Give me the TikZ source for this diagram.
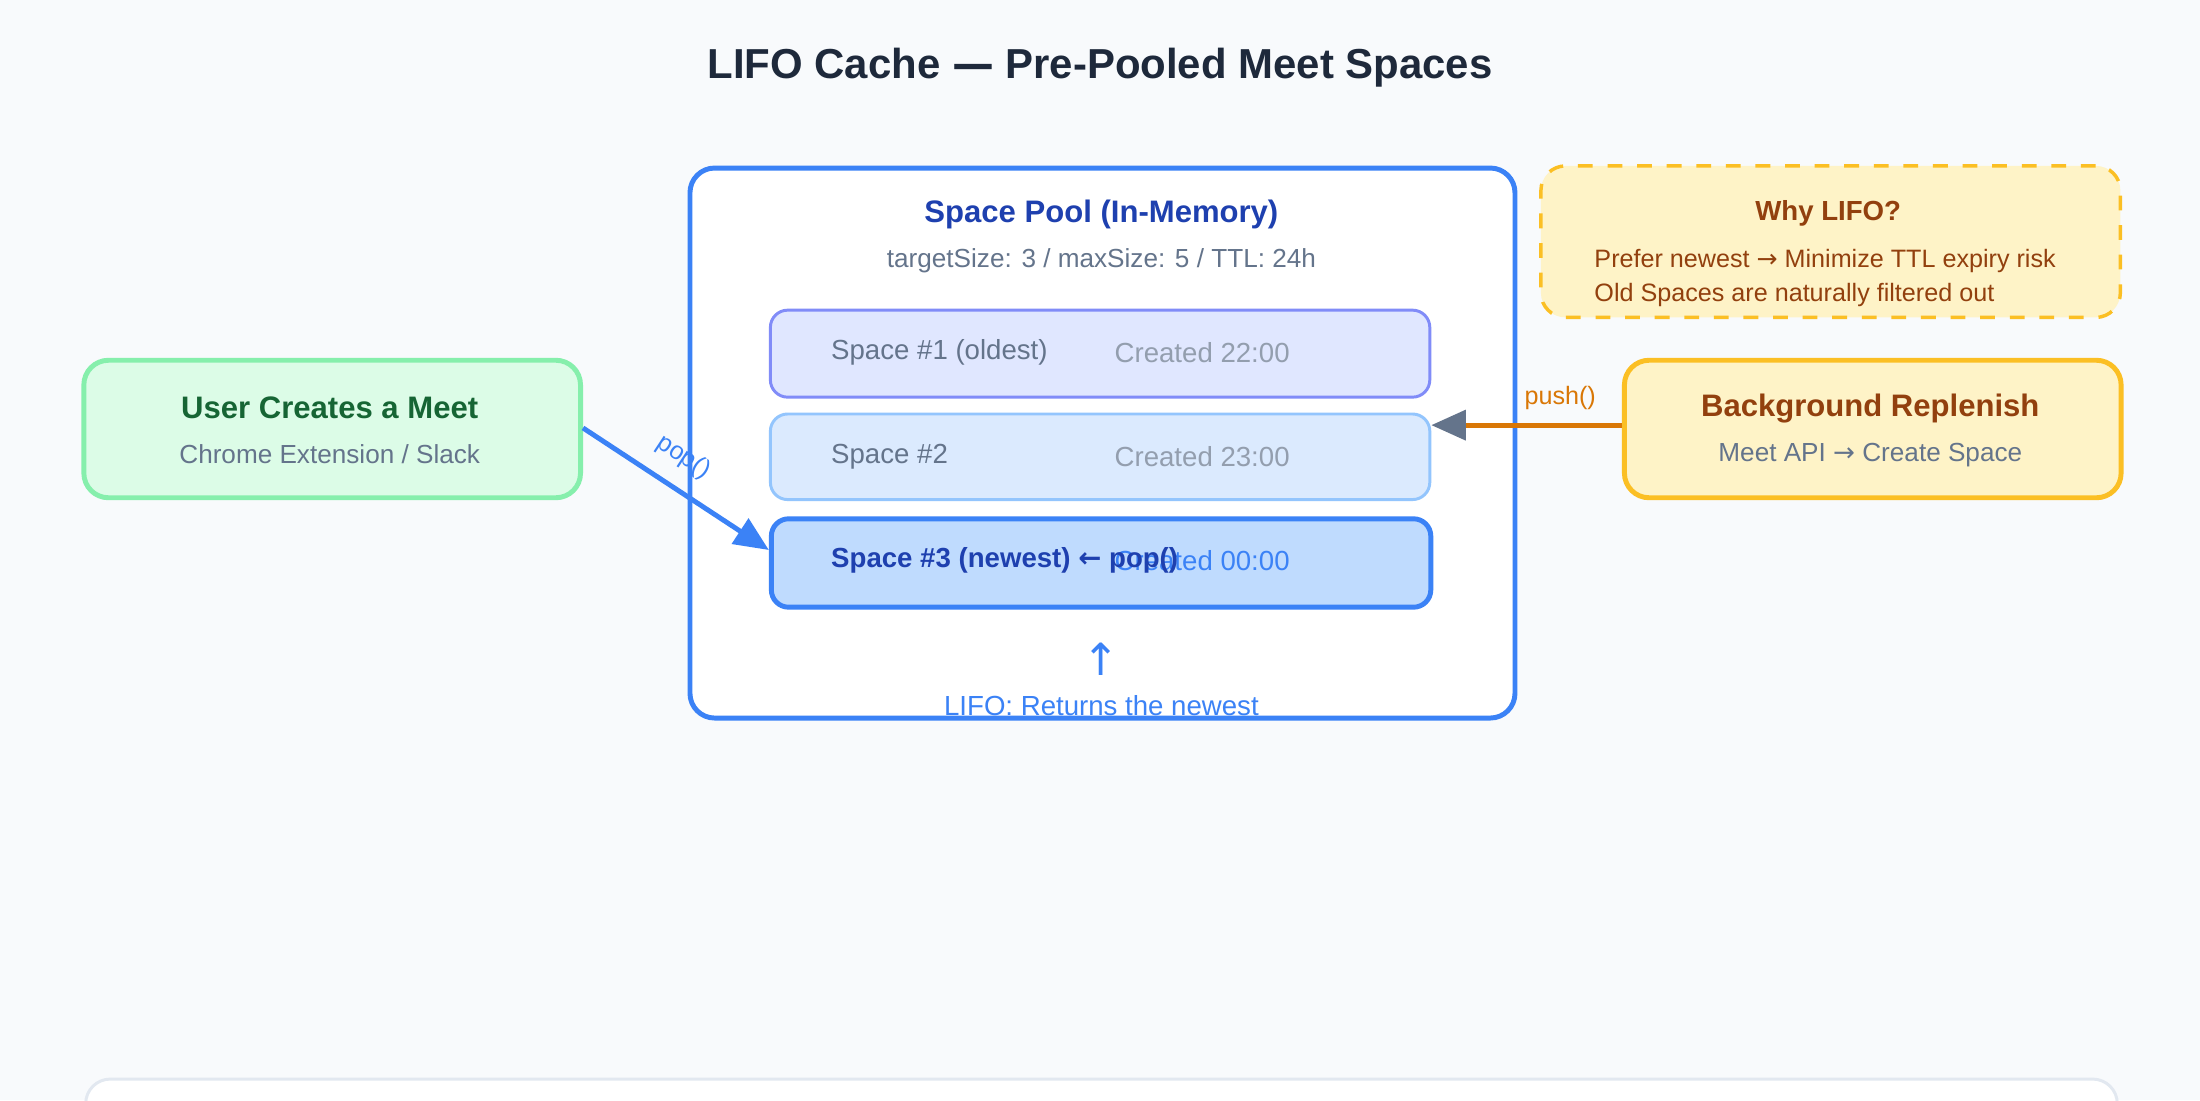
\documentclass[tikz,border=0pt]{standalone}
\usepackage{fontspec}
\setmainfont{Liberation Sans}
\newfontfamily\arrowfont{DejaVu Sans}
\usetikzlibrary{positioning,arrows.meta}
\definecolor{bgc}{HTML}{F8FAFC}
\definecolor{blu}{HTML}{3B82F6}
\definecolor{dblu}{HTML}{1E40AF}
\definecolor{slate}{HTML}{64748B}
\definecolor{ink}{HTML}{1E293B}
\definecolor{txt}{HTML}{334155}
\definecolor{amb}{HTML}{FBBF24}
\definecolor{brn}{HTML}{92400E}
\definecolor{ora}{HTML}{D97706}
\newcommand{\fs}[1]{\fontsize{#1}{#1}\selectfont}
\newcommand{\arr}[1]{{\arrowfont #1}}
\tikzset{%
box/.style={draw, rounded corners=5pt, line width=1pt, anchor=north west, inner sep=0pt},
slot/.style={draw, rounded corners=3.5pt, line width=0.6pt, anchor=north west},
slotl/.style={anchor=west, font=\fs{5.6}, text=slate},
hd/.style={font=\bfseries\fs{6.3}},
sub/.style={font=\fs{5.3}, text=slate},
pt/.style={-{Triangle[length=7pt,width=6pt]}, line width=1pt}
}
\begin{document}
\begin{tikzpicture}[x=1cm,y=1cm]
\fill[bgc] (0,0) rectangle (15.68,7.84);
\useasboundingbox (0,0) rectangle (15.68,7.84);
\begin{scope}[yshift=-3.16cm]
\node[font=\bfseries\fs{8.5}, text=ink] (title) at (7.84,10.52) {LIFO Cache \arr{—} Pre-Pooled Meet Spaces};

% pool
\node[box, draw=blu, fill=white, minimum width=5.88cm, minimum height=3.92cm] (pool) at (4.9,9.82) {};
\node[hd, text=dblu] (pooltitle) at (7.85,9.47) {Space Pool (In-Memory)};
\node[sub] (poolsub) at (7.85,9.14) {targetSize: 3 / maxSize: 5 / TTL: 24h};
\node[slot, draw={rgb,255:red,129;green,140;blue,248}, fill={rgb,255:red,224;green,231;blue,255}, minimum width=4.7cm, minimum height=0.62cm] (s1) at (5.48,8.8) {};
\node[slot, draw={rgb,255:red,147;green,197;blue,253}, fill={rgb,255:red,219;green,234;blue,254}, minimum width=4.7cm, minimum height=0.61cm] (s2) at (5.48,8.06) {};
\node[slot, line width=1pt, draw=blu, fill={rgb,255:red,191;green,219;blue,254}, minimum width=4.7cm, minimum height=0.63cm] (s3) at (5.48,7.32) {};
\node[slotl] at (5.8,8.49) {Space \#1 (oldest)};
\node[slotl, text=slate!70] at (7.82,8.49) {Created 22:00};
\node[slotl] at (5.8,7.745) {Space \#2};
\node[slotl, text=slate!70] at (7.82,7.745) {Created 23:00};
\node[slotl, text=blu] at (7.82,7.005) {Created 00:00};
\node[slotl, text=dblu, font=\bfseries\fs{5.6}] at (5.8,7.005) {Space \#3 (newest) \arr{←} pop()};
\node[text=blu, font=\fs{9}] (up) at (7.85,6.3) {\arr{↑}};
\node[text=blu, font=\fs{5.6}] (lifo) at (7.85,5.97) {LIFO: Returns the newest};

% user
\node[box, draw={rgb,255:red,134;green,239;blue,172}, fill={rgb,255:red,220;green,252;blue,231}, minimum width=3.54cm, minimum height=0.98cm] (user) at (0.58,8.45) {};
\node[hd, text={rgb,255:red,22;green,101;blue,52}] at (2.35,8.09) {User Creates a Meet};
\node[sub] at (2.35,7.76) {Chrome Extension / Slack};

% replenish
\node[box, draw=amb, fill={rgb,255:red,254;green,243;blue,199}, minimum width=3.54cm, minimum height=0.98cm] (bg) at (11.56,8.45) {};
\node[hd, text=brn] at (13.33,8.09) {Background Replenish};
\node[sub] at (13.33,7.76) {Meet API \arr{→} Create Space};

% why
\node[box, dashed, line width=0.7pt, draw=amb, fill={rgb,255:red,254;green,243;blue,199}, minimum width=4.13cm, minimum height=1.08cm] (why) at (10.97,9.83) {};
\node[font=\bfseries\fs{5.6}, text=brn] at (13.03,9.48) {Why LIFO?};
\node[anchor=west, font=\fs{5.1}, text=brn] at (11.24,9.14) {Prefer newest \arr{→} Minimize TTL expiry risk};
\node[anchor=west, font=\fs{5.1}, text=brn] at (11.24,8.9) {Old Spaces are naturally filtered out};

% arrows
\draw[pt, blu] (user.east |- 0,7.95) -- (s3.west |- 0,7.08) node[pos=0.45, sloped, above, font=\fs{5.1}, text=blu] {pop()};
\draw[line width=1pt, ora] (bg.west |- 0,7.97) -- (10.34,7.97);
\draw[pt, slate] (10.4,7.97) -- (s2.east |- 0,7.97);
\node[font=\fs{5.1}, text=ora] at (11.12,8.16) {push()};

% flow
\node[box, line width=0.6pt, draw={rgb,255:red,226;green,232;blue,240}, fill=white, minimum width=14.48cm, minimum height=1.76cm] (flow) at (0.6,3.32) {};
\node[anchor=west, font=\bfseries\fs{6.3}, text=ink] at (0.98,2.95) {Flow};
\node[anchor=west, font=\fs{5.1}, text=txt] at (0.98,2.5) {1. On startup: Call Meet API 3 times, store Spaces in the pool};
\node[anchor=west, font=\fs{5.1}, text=txt] at (0.98,2.14) {2. On request: pop() returns the newest Space instantly (latency <100ms)};
\node[anchor=west, font=\fs{5.1}, text=txt] at (0.98,1.8) {3. On consume: Background replenish starts after 100ms (mutex for exclusive access)};
\end{scope}
\end{tikzpicture}
\end{document}
